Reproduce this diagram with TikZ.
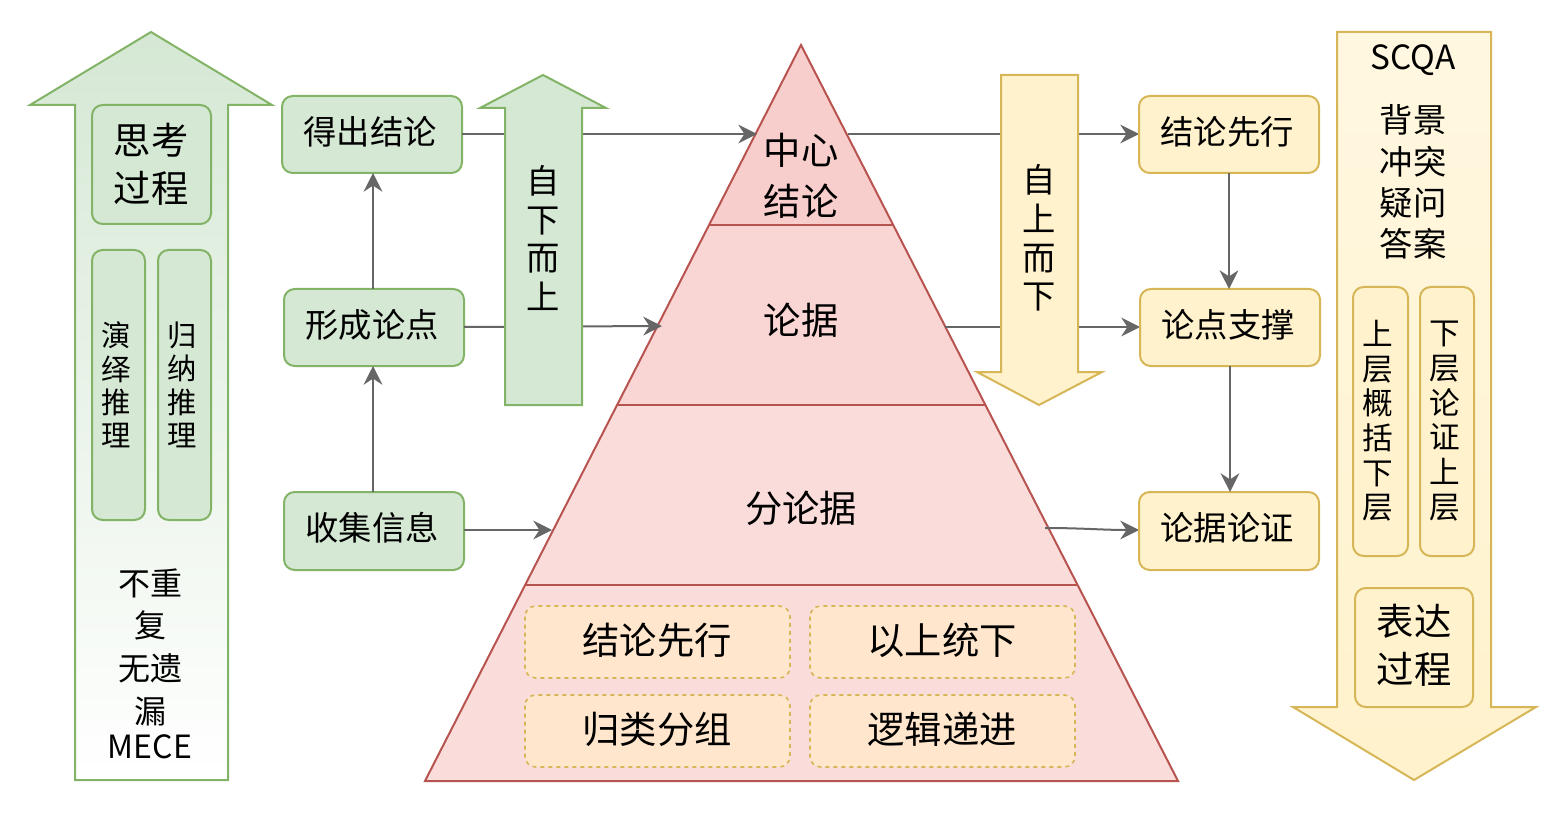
\documentclass[tikz,border=0pt]{standalone}
\usepackage{fontspec}
\setmainfont{Noto Sans CJK SC}
\usetikzlibrary{arrows.meta}
\definecolor{gf}{HTML}{D5E8D4}\definecolor{gs}{HTML}{82B366}
\definecolor{yf}{HTML}{FFF2CC}\definecolor{ys}{HTML}{D6B656}
\definecolor{rf}{HTML}{F8CECC}\definecolor{rs}{HTML}{B85450}
\definecolor{of}{HTML}{FFE6CC}\definecolor{ln}{HTML}{666666}
\begin{document}
\begin{tikzpicture}[x=0.75pt,y=-0.75pt,
 gbox/.style={draw=gs,fill=gf,rounded corners=8,line width=1.5pt},
 ybox/.style={draw=ys,fill=yf,rounded corners=8,line width=1.5pt},
 dbox/.style={draw=ys,fill=of,dashed,rounded corners=8,line width=1.2pt},
 con/.style={draw=ln,line width=1.5pt,-{Stealth[length=14pt,width=14pt]}},
 txt/.style={font=\fontsize{25}{30}\selectfont,align=center},
 vt/.style={font=\fontsize{22}{25}\selectfont,align=center}]
\useasboundingbox (0,0) rectangle (1566,816);
% left big arrow
\shade[top color=gf,bottom color=white,draw=gs,line width=1.5pt] (75,780)--(75,105)--(30,105)--(151,32)--(272,105)--(228,105)--(228,780)--cycle;
\draw[gbox] (92,105) rectangle (211,224); \node[txt,font=\fontsize{28}{36}\selectfont] at (151,164) {思考\\过程};
\draw[gbox] (92,250) rectangle (145,520); \node[vt] at (116,385) {演\\绎\\推\\理};
\draw[gbox] (158,250) rectangle (211,520); \node[vt] at (182,385) {归\\纳\\推\\理};
\node[txt,font=\fontsize{24}{32}\selectfont] at (150,647) {不重\\复\\无遗\\漏};
\node[txt,font=\fontsize{24}{30}\selectfont] at (150,747) {MECE};
% green boxes
\draw[gbox] (282,96) rectangle (462,173); \node[txt] (A) at (370,132) {得出结论};
\draw[gbox] (284,289) rectangle (464,366); \node[txt] (B) at (372,325) {形成论点};
\draw[gbox] (284,492) rectangle (464,570); \node[txt] (C) at (372,528) {收集信息};
\coordinate (At) at (373,173);\coordinate (Bt) at (373,289);\coordinate (Bb) at (373,366);\coordinate (Ct) at (373,492);
\draw[con] (Ct)--(Bb); \draw[con] (Bt)--(At);
% pyramid
\fill[fill=rf!70] (425,781)--(525,585)--(1078,585)--(1178,781)--cycle;
\fill[fill=rf!70] (525,585)--(617,405)--(985,405)--(1078,585)--cycle;
\fill[fill=rf!85] (617,405)--(709,225)--(893,225)--(985,405)--cycle;
\fill[fill=rf] (709,225)--(801,45)--(893,225)--cycle;
\draw[rs,line width=1.5pt] (425,781)--(801,45)--(1178,781)--cycle;
\draw[rs,line width=1.5pt] (709,225)--(893,225) (617,405)--(985,405) (525,585)--(1078,585);
\node[txt,font=\fontsize{28}{38}\selectfont] (P1) at (801,176) {中心\\结论};
\node[txt,font=\fontsize{28}{34}\selectfont] (P2) at (801,320) {论据};
\node[txt,font=\fontsize{28}{34}\selectfont] (P3) at (801,508) {分论据};
\draw[dbox] (525,606) rectangle (790,678); \node[font=\fontsize{28}{30}\selectfont] (d1) at (657,640) {结论先行};
\draw[dbox] (810,606) rectangle (1075,678); \node[font=\fontsize{28}{30}\selectfont] (d2) at (942,640) {以上统下};
\draw[dbox] (525,695) rectangle (790,767); \node[font=\fontsize{28}{30}\selectfont] (d3) at (657,729) {归类分组};
\draw[dbox] (810,695) rectangle (1075,767); \node[font=\fontsize{28}{30}\selectfont] (d4) at (942,729) {逻辑递进};
% left connectors
\coordinate (Ar) at (462,134);\coordinate (Br) at (464,327);\coordinate (Cr) at (464,530);
\coordinate (p1l) at (757,134);\coordinate (p2l) at (662,326);\coordinate (p3l) at (552,530);
\draw[con] (Ar)--(p1l); \draw[con] (Br)--(p2l); \draw[con] (Cr)--(p3l);
% middle up arrow
\draw[draw=gs,fill=gf,line width=1.5pt] (505,405)--(505,108)--(480,108)--(543,75)--(606,108)--(582,108)--(582,405)--cycle;
\node[vt,font=\fontsize{25}{29}\selectfont] at (543,238) {自\\下\\而\\上};
% right connectors
\coordinate (p1r) at (848,134);\coordinate (p2r) at (945,327);\coordinate (p3r) at (1045,528);
\coordinate (Dl) at (1139,134);\coordinate (El) at (1140,327);\coordinate (Fl) at (1139,530);
\draw[con] (p1r)--(Dl); \draw[con] (p2r)--(El); \draw[con] (p3r) to[out=0,in=180] (Fl);
% down arrow
\draw[draw=ys,fill=yf,line width=1.5pt] (1001,75)--(1001,372)--(977,372)--(1039,405)--(1102,372)--(1078,372)--(1078,75)--cycle;
\node[vt,font=\fontsize{25}{29}\selectfont] at (1039,238) {自\\上\\而\\下};
% yellow boxes
\draw[ybox] (1139,96) rectangle (1319,173); \node[txt] (D) at (1227,132) {结论先行};
\draw[ybox] (1140,289) rectangle (1320,366); \node[txt] (E) at (1228,325) {论点支撑};
\draw[ybox] (1139,492) rectangle (1319,570); \node[txt] (F) at (1227,528) {论据论证};
\coordinate (Db) at (1229,173);\coordinate (Et) at (1229,289);\coordinate (Eb) at (1230,366);\coordinate (Ft) at (1230,492);
\draw[con] (Db)--(Et); \draw[con] (Eb)--(Ft);
% right big arrow
\shade[top color=yf!60,bottom color=yf,draw=ys,line width=1.5pt] (1337,32)--(1337,707)--(1293,707)--(1414,780)--(1536,707)--(1491,707)--(1491,32)--cycle;
\node[font=\fontsize{25}{28}\selectfont] at (1413,60) {SCQA};
\node[txt,font=\fontsize{25}{31}\selectfont] at (1413,182) {背景\\冲突\\疑问\\答案};
\draw[ybox] (1353,287) rectangle (1408,556); \node[vt,font=\fontsize{23}{26}\selectfont] at (1378,421) {上\\层\\概\\括\\下\\层};
\draw[ybox] (1420,287) rectangle (1474,556); \node[vt,font=\fontsize{23}{26}\selectfont] at (1445,421) {下\\层\\论\\证\\上\\层};
\draw[ybox] (1355,588) rectangle (1473,707); \node[txt,font=\fontsize{28}{36}\selectfont] at (1414,645) {表达\\过程};
\end{tikzpicture}
\end{document}
